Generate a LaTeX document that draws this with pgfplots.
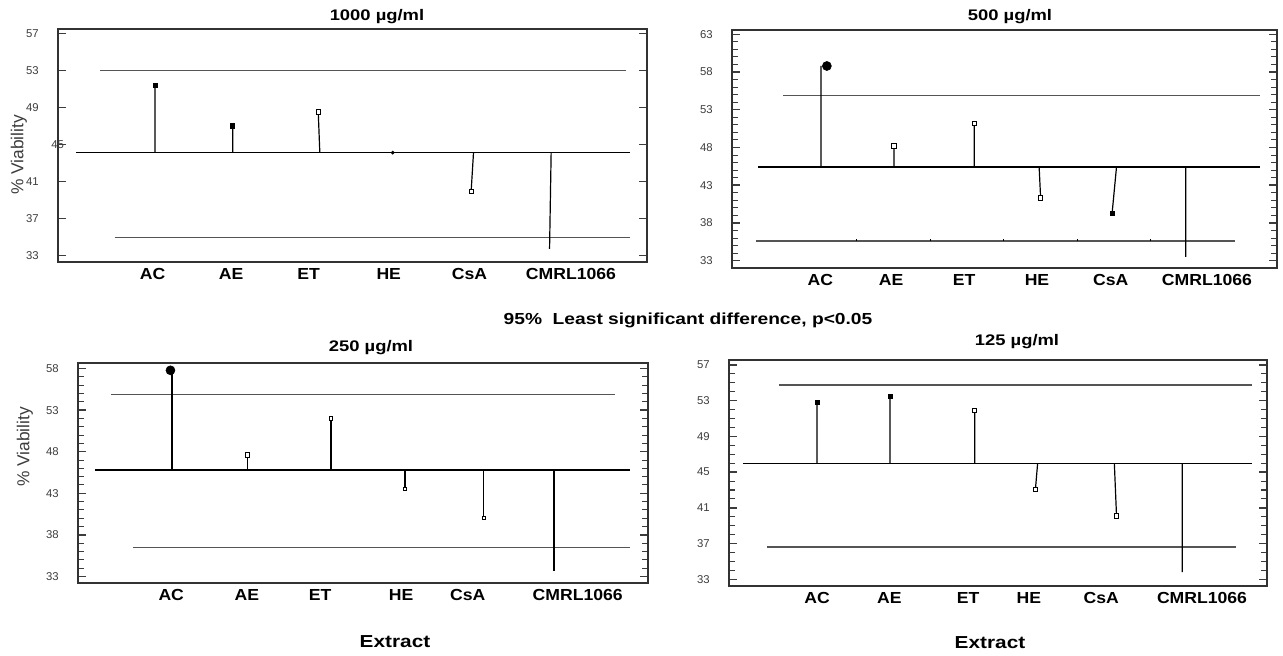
\documentclass[border=0pt]{standalone}
\usepackage{fontspec}
\setmainfont{Liberation Sans}
\newfontfamily\widefont{Liberation Sans}[FakeStretch=1.2]
\newfontfamily\catfont{Liberation Sans}[FakeStretch=1.1]
\usepackage{pgfplots}
\pgfplotsset{compat=1.18}
\definecolor{framegray}{RGB}{50,50,50}
\definecolor{limgray}{RGB}{85,85,85}
\definecolor{tickgray}{RGB}{60,60,60}

\pgfplotsset{
  anom/.style={
    scale only axis, anchor=north west,
    axis line style={framegray, line width=1.2pt},
    tick align=inside, ytick pos=both,
    xtick style={draw=none},
    major tick length=6pt, minor tick length=4.5pt,
    tick style={tickgray, line width=0.8pt},
    major tick style={line width=1.1pt},
    yticklabel style={font=\fontsize{8.5}{9}\selectfont, text=tickgray, xshift=-11pt},
    xticklabel style={font=\catfont\bfseries\fontsize{12}{13}\selectfont, yshift=-1pt},
    xticklabels={AC,AE,ET,HE,CsA,CMRL1066},
    /pgf/number format/assume math mode=true,
  },
  ctr/.style={black, line width=1pt},
  lim/.style={limgray, line width=1pt},
  stem/.style={black, line width=0.9pt, unbounded coords=jump},
  sqf/.style={only marks, mark=square*, mark size=1.6pt, mark options={fill=black, draw=black, line width=0.5pt}},
  sqo/.style={only marks, mark=square*, mark size=1.6pt, mark options={fill=white, draw=black, line width=0.7pt}},
  bigdot/.style={only marks, mark=*, mark size=3.4pt, mark options={fill=black, draw=black}},
}

\begin{document}
\begin{tikzpicture}
\useasboundingbox (0,0) rectangle (962.25pt,-492pt);

% 1000 ug/ml
\begin{axis}[anom,
  at={(43.5pt,-21.75pt)}, width=441.75pt, height=174.75pt,
  xmin=-0.225, xmax=7.21, ymin=32.28, ymax=57.47,
  xtick={0.97,1.96,2.94,3.95,4.97,6.25},
  ytick={33,37,41,49,53,57}, minor y tick num=3,
  extra y ticks={45}, extra y tick style={yticklabel style={xshift=19pt}},
]
\addplot[lim] coordinates {(0.31,53.0)(6.95,53.0)};
\addplot[ctr] coordinates {(0,44.1)(7.0,44.1)};
\addplot[lim] coordinates {(0.49,34.95)(7.0,34.95)};
\addplot[stem] coordinates {
  (1,44.1)(1,51.4) (1,nan)
  (1.98,44.1)(1.98,47.0) (1.98,nan)
  (3.08,44.1)(3.06,48.5) (3.06,nan)
  (5.02,44.1)(4.99,39.9) (4.99,nan)
  (6.0,44.1)(5.98,33.7)
};
\addplot[sqf] coordinates {(1,51.4)(1.98,47.0)};
\addplot[sqo] coordinates {(3.06,48.5)(4.99,39.9)};
\addplot[only marks, mark=*, mark size=1.2pt, black] coordinates {(4.0,44.1)};
\end{axis}

% 500 ug/ml
\begin{axis}[anom,
  at={(549pt,-22.5pt)}, width=408.75pt, height=178.5pt,
  xmin=-0.22, xmax=7.25, ymin=32.03, ymax=63.57,
  xtick={0.99,1.96,2.96,3.96,4.97,6.29},
  ytick={33,38,...,63}, minor y tick num=4,
]
\addplot[lim] coordinates {(0.48,54.9)(7.01,54.9)};
\addplot[ctr] coordinates {(0.14,45.4)(7.01,45.4)};
\addplot[lim] coordinates {(0.11,35.6)(6.68,35.6)};
\addplot[black, line width=0.6pt, unbounded coords=jump] coordinates {
  (1.49,35.6)(1.49,35.85) (1.49,nan)
  (2.5,35.6)(2.5,35.85) (2.5,nan)
  (3.5,35.6)(3.5,35.85) (3.5,nan)
  (4.52,35.6)(4.52,35.85) (4.52,nan)
  (5.52,35.6)(5.52,35.85)
};
\addplot[stem] coordinates {
  (1,45.4)(1,58.8) (1,nan)
  (2.0,45.4)(2.0,48.2) (2.0,nan)
  (3.1,45.4)(3.1,51.2) (3.1,nan)
  (3.99,45.4)(4.01,41.3) (4.01,nan)
  (5.05,45.4)(4.99,39.3) (4.99,nan)
  (6.0,45.4)(6.0,33.5)
};
\addplot[sqo] coordinates {(2.0,48.2)(3.1,51.2)(4.01,41.3)};
\addplot[sqf] coordinates {(4.99,39.3)};
\addplot[bigdot] coordinates {(1.08,58.8)};
\end{axis}

% 250 ug/ml
\begin{axis}[anom,
  at={(58.5pt,-272.25pt)}, width=427.5pt, height=165pt,
  xmin=-0.23, xmax=7.23, ymin=32.2, ymax=58.68,
  xtick={0.99,1.98,2.94,4.0,4.87,6.31},
  ytick={33,38,...,58}, minor y tick num=4,
]
\addplot[lim] coordinates {(0.2,54.9)(6.8,54.9)};
\addplot[ctr] coordinates {(-0.01,45.8)(7.0,45.8)};
\addplot[lim] coordinates {(0.49,36.5)(7.0,36.5)};
\addplot[stem] coordinates {
  (1,45.8)(1,57.8) (1,nan)
  (1.99,45.8)(1.99,47.6) (1.99,nan)
  (3.08,45.8)(3.08,52.0) (3.08,nan)
  (4.05,45.8)(4.05,43.5) (4.05,nan)
  (5.08,45.8)(5.08,40.0) (5.08,nan)
  (6.0,45.8)(6.0,33.7)
};
\addplot[sqo] coordinates {(1.99,47.6)};
\addplot[sqo, mark size=1.2pt] coordinates {(3.08,52.0)(4.05,43.5)(5.08,40.0)};
\addplot[bigdot] coordinates {(0.98,57.8)};
\end{axis}

% 125 ug/ml
\begin{axis}[anom,
  at={(546.75pt,-270pt)}, width=403.5pt, height=169.5pt,
  xmin=-0.205, xmax=7.16, ymin=32.25, ymax=57.56,
  xtick={1.0,1.99,3.07,3.9,4.89,6.27},
  ytick={33,37,...,57}, minor y tick num=3,
]
\addplot[lim] coordinates {(0.48,54.75)(6.96,54.75)};
\addplot[ctr] coordinates {(-0.01,46.0)(6.96,46.0)};
\addplot[lim] coordinates {(0.32,36.6)(6.73,36.6)};
\addplot[stem] coordinates {
  (1,46.0)(1,52.8) (1,nan)
  (2.0,46.0)(2.0,53.47) (2.0,nan)
  (3.16,46.0)(3.16,51.93) (3.16,nan)
  (4.02,46.0)(3.99,43.1) (3.99,nan)
  (5.07,46.0)(5.1,40.1) (5.1,nan)
  (6.0,46.0)(6.0,33.8)
};
\addplot[sqf] coordinates {(1,52.8)(2.0,53.47)};
\addplot[sqo] coordinates {(3.16,51.93)(3.99,43.1)(5.1,40.1)};
\end{axis}

% titles and labels
\node[font=\widefont\bfseries\fontsize{11.5}{13}\selectfont] at (282.75pt,-12.75pt) {1000 µg/ml};
\node[font=\widefont\bfseries\fontsize{11.5}{13}\selectfont] at (757.5pt,-12.75pt) {500 µg/ml};
\node[font=\widefont\bfseries\fontsize{11.5}{13}\selectfont] at (278.25pt,-261pt) {250 µg/ml};
\node[font=\widefont\bfseries\fontsize{11.5}{13}\selectfont] at (762.75pt,-256.5pt) {125 µg/ml};
\node[font=\widefont\bfseries\fontsize{12}{14}\selectfont] at (516pt,-240pt) {95\%\ \ Least significant difference, p<0.05};
\node[font=\widefont\bfseries\fontsize{13}{15}\selectfont] at (296.25pt,-481.5pt) {Extract};
\node[font=\widefont\bfseries\fontsize{13}{15}\selectfont] at (742.5pt,-482.25pt) {Extract};
\node[rotate=90, font=\fontsize{13}{15}\selectfont, text=tickgray] at (14.25pt,-116.25pt) {\% Viability};
\node[rotate=90, font=\fontsize{13}{15}\selectfont, text=tickgray] at (18.75pt,-335.25pt) {\% Viability};
\end{tikzpicture}
\end{document}
